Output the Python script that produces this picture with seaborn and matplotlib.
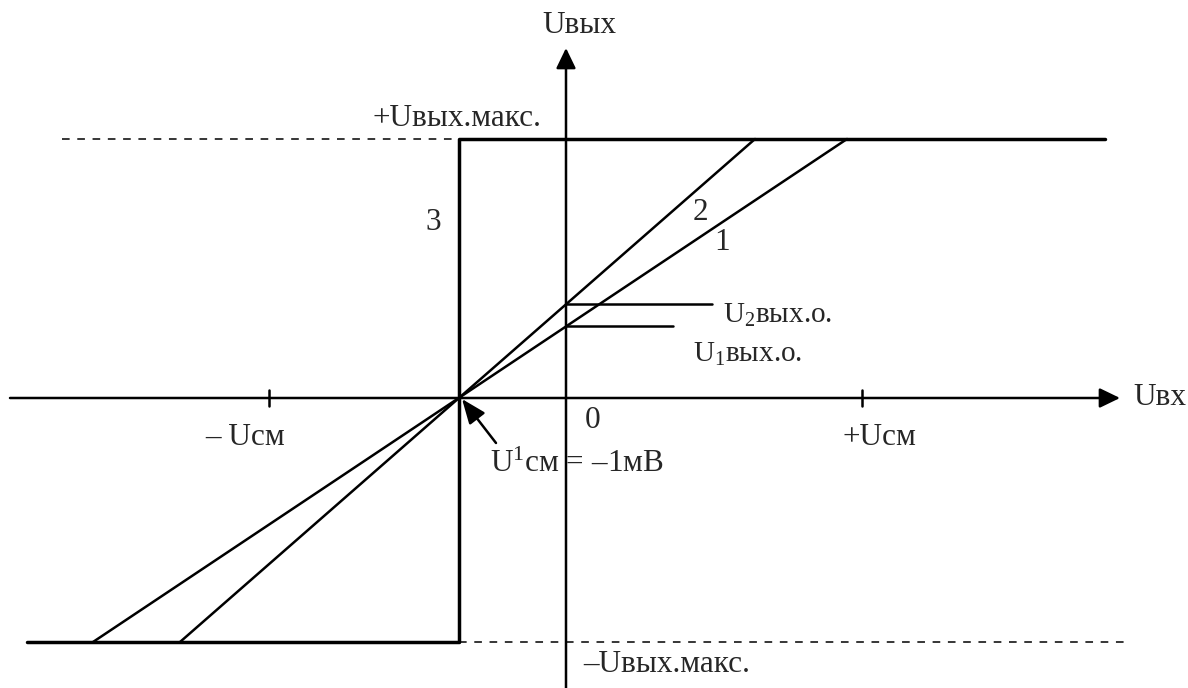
import numpy as np
import pandas as pd
import matplotlib
matplotlib.use("Agg")
import matplotlib.pyplot as plt
import seaborn as sns

# Transfer characteristics of an op-amp with input offset (diagram units)
u_in_span = [-539, 539]          # extent of the drawn characteristics along Uвх
u_sat = [-244, 259]              # -Uвых.макс., +Uвых.макс.
u_offset = -107                  # U¹см = -1 мВ, common crossing point
u_cm_ticks = [-297, 296]         # -Uсм, +Uсм
char1_x = [-473, 281]            # line 1 reaches -Uвых.макс. / +Uвых.макс.
char2_x = [-386, 189]            # line 2 reaches -Uвых.макс. / +Uвых.макс.
marker_len = {"1": 107, "2": 146}  # length of U1вых.о. / U2вых.о. leaders

sns.set_theme(style="white")
plt.rcParams["font.family"] = ["Liberation Serif", "DejaVu Serif"]
plt.rcParams["mathtext.fontset"] = "custom"
plt.rcParams["mathtext.rm"] = "Liberation Serif"
plt.rcParams["mathtext.it"] = "Liberation Serif"

fig = plt.figure(figsize=(11.88, 6.88), dpi=100)
ax = fig.add_axes([0, 0, 1, 1])
ax.set_xlim(-566, 622)
ax.set_ylim(-290, 398)
ax.axis("off")

lw = 1.8
fs = 22.5

# coordinate axes with arrow heads
head = "-|>,head_length=0.62,head_width=0.3"
ax.annotate("", xy=(554, 0), xytext=(-556, 0),
            arrowprops=dict(arrowstyle=head, mutation_scale=20, color="black",
                            lw=lw, shrinkA=0, shrinkB=0))
ax.annotate("", xy=(0, 350), xytext=(0, -290),
            arrowprops=dict(arrowstyle=head, mutation_scale=20, color="black",
                            lw=lw, shrinkA=0, shrinkB=0))
for t in u_cm_ticks:
    ax.plot([t, t], [-8, 8], color="black", lw=lw)

# dashed saturation levels
ax.plot([-504, u_offset], [u_sat[1], u_sat[1]], color="black", lw=1.1,
        ls=(0, (5, 5)))
ax.plot([u_offset, 559], [u_sat[0], u_sat[0]], color="black", lw=1.1,
        ls=(0, (5, 5)))

# characteristic 3: ideal comparator step at the offset point
df3 = pd.DataFrame({"x": [u_in_span[0], u_offset, u_offset, u_in_span[1]],
                    "y": [u_sat[0], u_sat[0], u_sat[1], u_sat[1]]})
sns.lineplot(data=df3, x="x", y="y", sort=False, color="black", lw=2.5,
             ax=ax, estimator=None)

# characteristics 1 and 2: linear region between the saturation levels
for xs in (char1_x, char2_x):
    d = pd.DataFrame({"x": xs, "y": u_sat})
    sns.lineplot(data=d, x="x", y="y", sort=False, color="black", lw=lw,
                 ax=ax, estimator=None)

# output offset levels where lines 1 and 2 cross Uвх = 0
u1_out = np.interp(0, char1_x, u_sat)
u2_out = np.interp(0, char2_x, u_sat)
ax.plot([0, marker_len["2"]], [u2_out, u2_out], color="black", lw=lw)
ax.plot([0, marker_len["1"]], [u1_out, u1_out], color="black", lw=lw)

# arrow pointing to the offset point
ax.annotate("", xy=(-104, -1), xytext=(-70, -45),
            arrowprops=dict(arrowstyle="-|>,head_length=0.75,head_width=0.3",
                            mutation_scale=20, color="black", lw=lw,
                            shrinkA=0, shrinkB=0))

# labels
ax.text(-24, 365, "Uвых", fontsize=fs, ha="left", va="baseline")
ax.text(-193, 272, "+Uвых.макс.", fontsize=fs, ha="left", va="baseline")
ax.text(-133, 176, "3", fontsize=fs, ha="center", va="center")
ax.text(134, 185, "2", fontsize=fs, ha="center", va="center")
ax.text(156, 155, "1", fontsize=fs, ha="center", va="center")
ax.text(157, 75, "U$_2$вых.о.", fontsize=fs - 1.5, ha="left", va="baseline")
ax.text(127, 36, "U$_1$вых.о.", fontsize=fs - 1.5, ha="left", va="baseline")
ax.text(27, -23, "0", fontsize=fs, ha="center", va="center")
ax.text(-361, -47, "– Uсм", fontsize=fs, ha="left", va="baseline")
ax.text(277, -47, "+Uсм", fontsize=fs, ha="left", va="baseline")
ax.text(-76, -74, "U$^1$см = –1мВ", fontsize=fs, ha="left", va="baseline")
ax.text(17, -274, "–Uвых.макс.", fontsize=fs, ha="left", va="baseline")
ax.text(567, -7, "Uвх", fontsize=fs, ha="left", va="baseline")

fig.savefig("out.png", dpi=100, facecolor="white")
